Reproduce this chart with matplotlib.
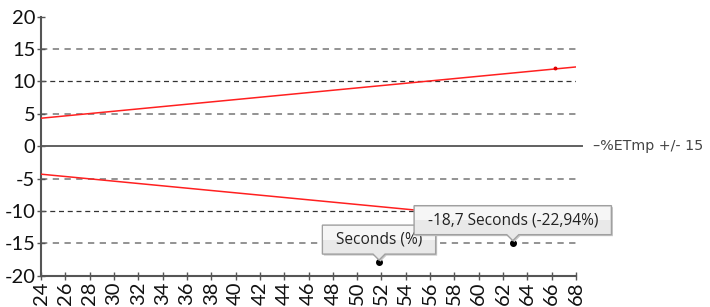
import numpy as np
import matplotlib
matplotlib.use("Agg")
import matplotlib.pyplot as plt
from matplotlib.patches import Polygon

# data
band_x = [24, 68]
upper_band = [4.32, 12.24]
lower_band = [-4.32, -12.24]
upper_point = (66.3, 12.0)

pts_x = [51.8, 62.8]
pts_y = [-17.9, -14.9]
pts_labels = ["Seconds (%)", "-18,7 Seconds (-22,94%)"]

x_ticks = list(range(24, 70, 2))
y_ticks = list(range(-20, 25, 5))
legend_label = "%ETmp +/- 15"

fig = plt.figure(figsize=(7.10, 3.07), dpi=100)
ax = fig.add_axes([41 / 710, 31.3 / 307, 535 / 710, 259 / 307])

# grid lines
for y in [-15, -5, 5, 15]:
    ax.axhline(y, color="#8a8a8a", lw=1.3, ls=(0, (3.5, 3)), zorder=1)
for y in [-10, 10]:
    ax.axhline(y, color="#333333", lw=0.9, ls=(0, (4, 3)), zorder=1)
ax.plot([0, 1.011], [0.5, 0.5], transform=ax.transAxes, color="#606060",
        lw=1.4, clip_on=False, zorder=2)

# red band
ax.plot(band_x, upper_band, color="#ff2020", lw=1.1, zorder=3)
ax.plot(band_x, lower_band, color="#ff2020", lw=1.1, zorder=3)
ax.plot([upper_point[0]], [upper_point[1]], "o", color="#e00000", ms=1.8, zorder=4)

# black points
ax.plot(pts_x, pts_y, "o", color="black", ms=4, zorder=5)

ax.set_xlim(24, 68)
ax.set_ylim(-20, 20)
ax.set_xticks(x_ticks)
ax.set_yticks(y_ticks)
ax.set_xticklabels([str(v) for v in x_ticks], rotation=90, family="Lato", fontsize=14.5)
ax.set_yticklabels([str(v) for v in y_ticks], family="Lato", fontsize=14.5)
ax.tick_params(direction="inout", length=6, width=1, color="#555555", pad=1,
               labelcolor="#111111")
for s in ["top", "right"]:
    ax.spines[s].set_visible(False)
for s in ["left", "bottom"]:
    ax.spines[s].set_color("#555555")
    ax.spines[s].set_linewidth(1.5)

# legend entry next to the zero line
fig.text(593 / 710, 1 - 146 / 307, "\u2013" + legend_label, family="DejaVu Sans",
         fontsize=10.3, color="#444444", va="center", ha="left")

# tooltips
fig.canvas.draw()
renderer = fig.canvas.get_renderer()
for i, (px, py, lab) in enumerate(zip(pts_x, pts_y, pts_labels)):
    X, Y = ax.transData.transform((px, py))
    bottom = Y + 8
    h = 29
    t = fig.text(0, 0, lab, family="Open Sans", fontsize=11.2, color="#222222",
                 ha="center", va="center", zorder=20 + 2 * i + 1)
    w = t.get_window_extent(renderer).width + 27
    t.set_position(((X) / 710, (bottom + h / 2) / 307))
    left, right = X - w / 2, X + w / 2
    verts = [(left, bottom), (X - 6, bottom), (X, bottom - 6), (X + 6, bottom),
             (right, bottom), (right, bottom + h), (left, bottom + h)]
    # shadow
    sh = Polygon([(vx + 1.5, vy - 1.5) for vx, vy in verts], closed=True,
                 transform=None, facecolor="#c8c8c8", edgecolor="none",
                 zorder=20 + 2 * i)
    fig.patches.append(sh)
    box = Polygon(verts, closed=True, transform=None, facecolor="#e9e9e9",
                  edgecolor="#a0a0a0", lw=1, zorder=20 + 2 * i)
    fig.patches.append(box)
    # lighter upper half
    top = Polygon([(left + 1, bottom + h * 0.5), (right - 1, bottom + h * 0.5),
                   (right - 1, bottom + h - 1), (left + 1, bottom + h - 1)],
                  closed=True, transform=None, facecolor="#f6f6f6",
                  edgecolor="none", zorder=20 + 2 * i)
    fig.patches.append(top)

fig.savefig("out.png", dpi=100)
